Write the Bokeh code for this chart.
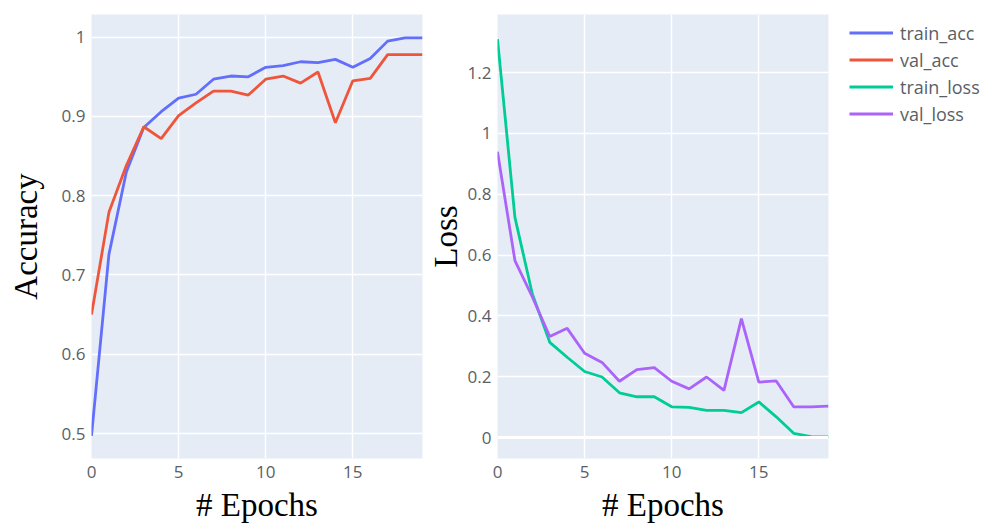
from bokeh.plotting import figure
from bokeh.layouts import row
from bokeh.models import FixedTicker, Legend, LegendItem, Span, Range1d
from bokeh.embed import file_html
from bokeh.resources import INLINE

# ---- data ----
epochs = list(range(20))
train_acc = [0.497, 0.726, 0.830, 0.886, 0.906, 0.923, 0.928, 0.947, 0.951, 0.950,
             0.962, 0.964, 0.969, 0.968, 0.972, 0.962, 0.973, 0.995, 0.999, 0.999]
val_acc = [0.650, 0.779, 0.838, 0.887, 0.872, 0.901, 0.917, 0.932, 0.932, 0.927,
           0.947, 0.951, 0.942, 0.956, 0.892, 0.945, 0.948, 0.978, 0.978, 0.978]
train_loss = [1.310, 0.724, 0.472, 0.313, 0.264, 0.217, 0.199, 0.147, 0.134, 0.134,
              0.101, 0.099, 0.089, 0.089, 0.082, 0.117, 0.068, 0.014, 0.003, 0.002]
val_loss = [0.940, 0.582, 0.462, 0.332, 0.359, 0.277, 0.247, 0.185, 0.223, 0.230,
            0.185, 0.160, 0.199, 0.155, 0.391, 0.182, 0.186, 0.101, 0.101, 0.103]

x_ticks = [0, 5, 10, 15]
acc_ticks = [0.5, 0.6, 0.7, 0.8, 0.9, 1.0]
acc_tick_labels = ["0.5", "0.6", "0.7", "0.8", "0.9", "1"]
loss_ticks = [0.0, 0.2, 0.4, 0.6, 0.8, 1.0, 1.2]
loss_tick_labels = ["0", "0.2", "0.4", "0.6", "0.8", "1", "1.2"]

series_names = ["train_acc", "val_acc", "train_loss", "val_loss"]
colors = ["#636efa", "#ef553b", "#00cc96", "#ab63fa"]

TICK_COLOR = "#5a5f66"
TICK_FONT = "Open Sans"
TITLE_FONT = "Liberation Serif"
LW = 2.8


def make_fig(y_range, yticks, ylabels, ylabel, min_left, min_right, ylabel_standoff):
    p = figure(frame_width=331, frame_height=444, x_range=(0, 19), y_range=y_range,
               output_backend="svg", toolbar_location=None,
               min_border_left=min_left, min_border_right=min_right,
               min_border_top=14, min_border_bottom=70)
    p.background_fill_color = "#e5ecf6"
    p.border_fill_color = "white"
    p.outline_line_color = None
    for ax in (p.xaxis[0], p.yaxis[0]):
        ax.axis_line_color = None
        ax.major_tick_line_color = None
        ax.minor_tick_line_color = None
        ax.major_tick_out = 0
        ax.major_tick_in = 0
        ax.minor_tick_out = 0
        ax.minor_tick_in = 0
        ax.major_label_text_font = TICK_FONT
        ax.major_label_text_font_size = "17px"
        ax.major_label_text_color = TICK_COLOR
        ax.axis_label_text_font = TITLE_FONT
        ax.axis_label_text_font_size = "33px"
        ax.axis_label_text_font_style = "normal"
        ax.axis_label_text_color = "black"
    p.xaxis.ticker = FixedTicker(ticks=x_ticks)
    p.xaxis.major_label_standoff = 7
    p.xaxis.axis_label = "# Epochs"
    p.xaxis.axis_label_standoff = 6
    p.yaxis.ticker = FixedTicker(ticks=yticks)
    p.yaxis.major_label_overrides = {t: l for t, l in zip(yticks, ylabels)}
    p.yaxis.major_label_standoff = 6
    p.yaxis.axis_label = ylabel
    p.yaxis.axis_label_standoff = ylabel_standoff
    p.xgrid.grid_line_color = "white"
    p.ygrid.grid_line_color = "white"
    p.xgrid.grid_line_width = 1.5
    p.ygrid.grid_line_width = 1.5
    return p


p1 = make_fig((0.4685, 1.0286), acc_ticks, acc_tick_labels, "Accuracy", 91, 2, 15)
p1.line(epochs, train_acc, line_color=colors[0], line_width=LW)
p1.line(epochs, val_acc, line_color=colors[1], line_width=LW)

p2 = make_fig((-0.069, 1.391), loss_ticks, loss_tick_labels, "Loss", 71, 166, 1)
p2.add_layout(Span(location=0, dimension="width", line_color="white", line_width=3))
# accuracy series repeated on an off-screen range so the shared legend can show them
p2.extra_y_ranges = {"acc_hidden": Range1d(10, 11)}
r_a = p2.line(epochs, train_acc, line_color=colors[0], line_width=LW, y_range_name="acc_hidden")
r_b = p2.line(epochs, val_acc, line_color=colors[1], line_width=LW, y_range_name="acc_hidden")
r_c = p2.line(epochs, train_loss, line_color=colors[2], line_width=LW)
r_d = p2.line(epochs, val_loss, line_color=colors[3], line_width=LW)

legend = Legend(items=[LegendItem(label=n, renderers=[r]) for n, r in
                       zip(series_names, [r_a, r_b, r_c, r_d])],
                location=(21, 331), margin=0, padding=6, spacing=0,
                glyph_width=44, glyph_height=27, label_height=27, label_standoff=7,
                label_text_font=TICK_FONT, label_text_font_size="18px",
                label_text_color=TICK_COLOR,
                border_line_color=None, background_fill_alpha=0)
p2.add_layout(legend, "right")

layout = row(p1, p2)
open("out.html", "w").write(file_html(layout, INLINE))
